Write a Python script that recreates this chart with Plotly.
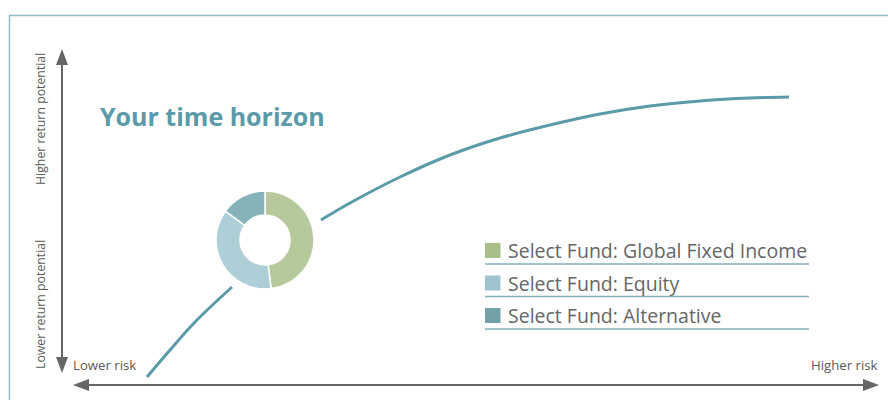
import plotly.graph_objects as go

# ---- data ----
fund_labels = ["Select Fund: Global Fixed Income", "Select Fund: Equity", "Select Fund: Alternative"]
fund_shares = [48, 37, 15]
donut_colors = ["#b5c99c", "#aecfd8", "#86b2b9"]
legend_colors = ["#a8bf8a", "#9dc4ce", "#72a1a8"]

# risk/return curve (two segments, gap around the donut)
curve1_risk = [147, 170, 195, 232]
curve1_return = [377, 350, 322, 287]
curve2_risk = [321, 350, 400, 450, 500, 550, 600, 650, 700, 750, 789]
curve2_return = [220, 203, 177, 155, 138, 125, 114, 106, 101, 98, 97]

title_text = "Your time horizon"
y_labels = ["Higher return potential", "Lower return potential"]
x_labels = ["Lower risk", "Higher risk"]

W, H = 888, 400
LINE = "#5b9aa8"
GREY = "#666666"
TXT = "#5a5a5a"

fig = go.Figure()
fig.add_trace(go.Scatter(x=curve1_risk, y=curve1_return, mode="lines",
                         line=dict(color=LINE, width=3, shape="spline"),
                         hoverinfo="skip", showlegend=False))
fig.add_trace(go.Scatter(x=curve2_risk, y=curve2_return, mode="lines",
                         line=dict(color=LINE, width=3, shape="spline"),
                         hoverinfo="skip", showlegend=False))

# donut
cx, cy, r = 265, 240, 49
fig.add_trace(go.Pie(values=fund_shares, labels=fund_labels, hole=0.51,
                     sort=False, direction="clockwise", rotation=0,
                     marker=dict(colors=donut_colors, line=dict(color="white", width=1.5)),
                     textinfo="none", hoverinfo="label+percent", showlegend=False,
                     domain=dict(x=[(cx - r) / W, (cx + r) / W],
                                 y=[(H - cy - r) / H, (H - cy + r) / H])))

shapes = []
# frame
shapes.append(dict(type="path", path=f"M 9.5 {H} L 9.5 15.5 L {W} 15.5",
                   line=dict(color="#8fbcc6", width=1.5), xref="x", yref="y"))
# vertical arrow
shapes.append(dict(type="line", x0=62, x1=62, y0=62, y1=360, xref="x", yref="y",
                   line=dict(color=GREY, width=2)))
shapes.append(dict(type="path", path="M 62 49 L 56 65 L 68 65 Z", fillcolor=GREY,
                   line=dict(width=0), xref="x", yref="y"))
shapes.append(dict(type="path", path="M 62 373 L 56 357 L 68 357 Z", fillcolor=GREY,
                   line=dict(width=0), xref="x", yref="y"))
# horizontal arrow
shapes.append(dict(type="line", x0=85, x1=866, y0=385, y1=385, xref="x", yref="y",
                   line=dict(color=GREY, width=2)))
shapes.append(dict(type="path", path="M 73 385 L 89 379 L 89 391 Z", fillcolor=GREY,
                   line=dict(width=0), xref="x", yref="y"))
shapes.append(dict(type="path", path="M 879 385 L 863 379 L 863 391 Z", fillcolor=GREY,
                   line=dict(width=0), xref="x", yref="y"))

annotations = []
# legend
for i, (lab, col) in enumerate(zip(fund_labels, legend_colors)):
    yc = 250.5 + i * 32.5
    shapes.append(dict(type="rect", x0=485, x1=500.5, y0=yc - 7.5, y1=yc + 7.5,
                       fillcolor=col, line=dict(width=0), xref="x", yref="y"))
    shapes.append(dict(type="line", x0=485, x1=809, y0=yc + 13.5, y1=yc + 13.5,
                       line=dict(color="#7fb0bb", width=1.5), xref="x", yref="y"))
    annotations.append(dict(x=506, y=yc, xref="x", yref="y", text=lab, showarrow=False,
                            xanchor="left", yanchor="middle",
                            font=dict(family="Open Sans", size=19.5, color="#666666")))

annotations.append(dict(x=98, y=116, xref="x", yref="y", text=f"<b>{title_text}</b>",
                        showarrow=False, xanchor="left", yanchor="middle",
                        font=dict(family="Open Sans", size=25, color=LINE)))
annotations.append(dict(x=40, y=119, xref="x", yref="y", text=y_labels[0], textangle=-90,
                        showarrow=False, xanchor="center", yanchor="middle",
                        font=dict(family="Open Sans", size=12.3, color=TXT)))
annotations.append(dict(x=40, y=305, xref="x", yref="y", text=y_labels[1], textangle=-90,
                        showarrow=False, xanchor="center", yanchor="middle",
                        font=dict(family="Open Sans", size=12.3, color=TXT)))
annotations.append(dict(x=71, y=365, xref="x", yref="y", text=x_labels[0],
                        showarrow=False, xanchor="left", yanchor="middle",
                        font=dict(family="Open Sans", size=13.2, color=TXT)))
annotations.append(dict(x=880, y=365, xref="x", yref="y", text=x_labels[1],
                        showarrow=False, xanchor="right", yanchor="middle",
                        font=dict(family="Open Sans", size=13.2, color=TXT)))

fig.update_layout(
    width=W, height=H, autosize=False,
    margin=dict(l=0, r=0, t=0, b=0),
    paper_bgcolor="white", plot_bgcolor="white",
    xaxis=dict(range=[0, W], visible=False, fixedrange=True),
    yaxis=dict(range=[H, 0], visible=False, fixedrange=True),
    shapes=shapes, annotations=annotations, showlegend=False,
)

fig.write_html("out.html")
